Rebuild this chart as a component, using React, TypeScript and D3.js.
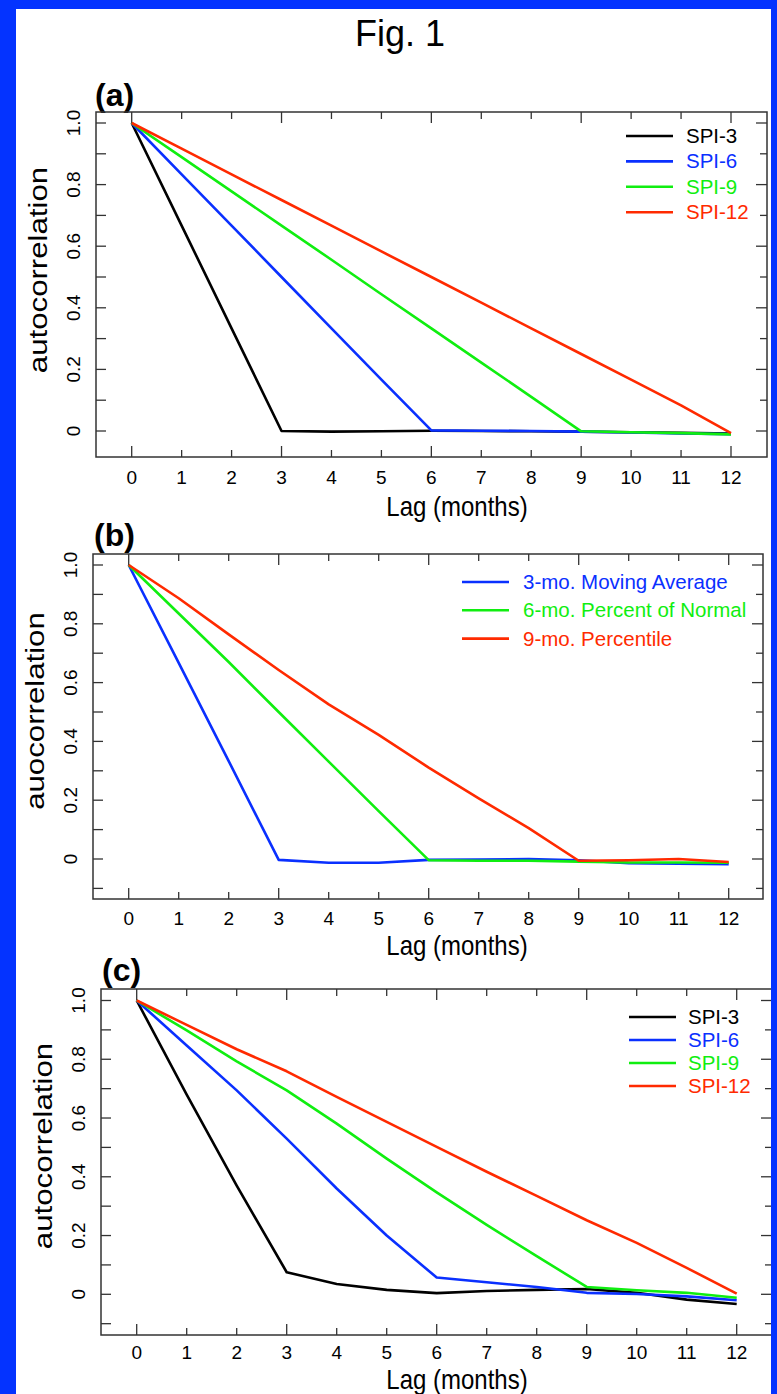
import React from 'react';
import * as d3 from 'd3';

// ---------- data ----------
const lags = [0, 1, 2, 3, 4, 5, 6, 7, 8, 9, 10, 11, 12];
const xTickLabels = ['0', '1', '2', '3', '4', '5', '6', '7', '8', '9', '10', '11', '12'];
const xMajorTicks = [0, 3, 6, 9, 12];
const yTickValues = [0, 0.2, 0.4, 0.6, 0.8, 1.0];
const yTickLabels = ['0', '0.2', '0.4', '0.6', '0.8', '1.0'];
const yMinorTicks = [-0.1, 0, 0.1, 0.2, 0.3, 0.4, 0.5, 0.6, 0.7, 0.8, 0.9, 1.0];

// panel (a)
const aSPI3 = [1, 0.667, 0.333, 0.0, -0.002, -0.001, 0.001, 0.0, -0.001, -0.002, -0.004, -0.006, -0.008];
const aSPI6 = [1, 0.833, 0.667, 0.5, 0.333, 0.167, 0.002, 0.001, 0.0, -0.002, -0.005, -0.008, -0.01];
const aSPI9 = [1, 0.889, 0.778, 0.667, 0.556, 0.444, 0.333, 0.222, 0.111, -0.001, -0.004, -0.007, -0.011];
const aSPI12 = [1, 0.917, 0.833, 0.75, 0.667, 0.583, 0.5, 0.417, 0.333, 0.25, 0.167, 0.083, -0.007];
const aLabels = ['SPI-3', 'SPI-6', 'SPI-9', 'SPI-12'];

// panel (b)
const bMovingAvg = [1, 0.667, 0.333, -0.003, -0.013, -0.013, -0.003, -0.002, 0.0, -0.004, -0.014, -0.016, -0.018];
const bPctNormal = [1, 0.835, 0.67, 0.5, 0.331, 0.163, -0.004, -0.006, -0.006, -0.009, -0.012, -0.012, -0.013];
const bPercentile = [1, 0.887, 0.764, 0.643, 0.526, 0.422, 0.311, 0.206, 0.105, -0.006, -0.004, 0.0, -0.01];
const bLabels = ['3-mo. Moving Average', '6-mo. Percent of Normal', '9-mo. Percentile'];

// panel (c)
const cSPI3 = [1, 0.68, 0.37, 0.075, 0.035, 0.015, 0.004, 0.011, 0.015, 0.018, 0.005, -0.018, -0.033];
const cSPI6 = [1, 0.847, 0.694, 0.53, 0.36, 0.2, 0.057, 0.041, 0.025, 0.005, 0.001, -0.007, -0.02];
const cSPI9 = [1, 0.898, 0.793, 0.694, 0.581, 0.462, 0.347, 0.236, 0.13, 0.025, 0.014, 0.005, -0.012];
const cSPI12 = [1, 0.917, 0.834, 0.759, 0.672, 0.587, 0.502, 0.417, 0.335, 0.252, 0.175, 0.09, 0.002];
const cLabels = ['SPI-3', 'SPI-6', 'SPI-9', 'SPI-12'];

const BLACK = '#000000';
const BLUE = '#0a30ff';
const GREEN = '#10ee10';
const RED = '#ff2a00';
const BORDER = '#0433ff';
const FONT = "'Liberation Sans', Arial, Helvetica, sans-serif";

type Series = { values: number[]; color: string; label: string };

type PanelProps = {
  tag: string;
  tagX: number;
  tagY: number;
  left: number;
  right: number;
  top: number;
  bottom: number;
  x0: number;
  x12: number;
  y1: number;
  y0: number;
  series: Series[];
  yTitle: string;
  yTitleY: number;
  lagY: number;
  tickLabelOffset: number;
  legendLineX1: number;
  legendLineX2: number;
  legendTextX: number;
  legendY0: number;
  legendStep: number;
};

function Panel(p: PanelProps) {
  const x = d3.scaleLinear().domain([0, 12]).range([p.x0, p.x12]);
  const y = d3.scaleLinear().domain([0, 1]).range([p.y0, p.y1]);
  const line = d3
    .line<number>()
    .x((_, i) => x(lags[i]))
    .y((d) => y(d));
  const axisColor = '#333';
  const majLen = 11;
  const minLen = 7;
  const yTicksIn = yMinorTicks.filter((v) => y(v) >= p.top && y(v) <= p.bottom);
  const isMajorY = (v: number) => yTickValues.some((t) => Math.abs(t - v) < 1e-6);
  const titleX = p.left - 49;
  return (
    <g>
      <text x={p.tagX} y={p.tagY} fontFamily={FONT} fontWeight="bold" fontSize={32}>
        {p.tag}
      </text>
      {/* ticks */}
      {lags.map((l) => {
        const len = xMajorTicks.includes(l) ? majLen : minLen;
        return (
          <g key={'xt' + l} stroke={axisColor} strokeWidth={1.3}>
            <line x1={x(l)} x2={x(l)} y1={p.bottom} y2={p.bottom - len} />
            <line x1={x(l)} x2={x(l)} y1={p.top} y2={p.top + len} />
          </g>
        );
      })}
      {yTicksIn.map((v) => {
        const len = isMajorY(v) ? majLen : minLen;
        return (
          <g key={'yt' + v} stroke={axisColor} strokeWidth={1.3}>
            <line x1={p.left} x2={p.left + 10} y1={y(v)} y2={y(v)} />
            <line x1={p.right} x2={p.right - len} y1={y(v)} y2={y(v)} />
          </g>
        );
      })}
      <rect
        x={p.left}
        y={p.top}
        width={p.right - p.left}
        height={p.bottom - p.top}
        fill="none"
        stroke={axisColor}
        strokeWidth={1.5}
      />
      {/* tick labels */}
      {lags.map((l, i) => (
        <text
          key={'xl' + l}
          x={x(l)}
          y={p.bottom + p.tickLabelOffset}
          textAnchor="middle"
          fontFamily={FONT}
          fontSize={19}
        >
          {xTickLabels[i]}
        </text>
      ))}
      {yTickValues.map((v, i) => (
        <text
          key={'yl' + v}
          x={p.left - 16}
          y={y(v)}
          textAnchor="middle"
          fontFamily={FONT}
          fontSize={19}
          transform={`rotate(-90, ${p.left - 16}, ${y(v)})`}
        >
          {yTickLabels[i]}
        </text>
      ))}
      <text
        transform={`translate(457, ${p.lagY}) scale(1, 1.15)`}
        textAnchor="middle"
        fontFamily={FONT}
        fontSize={24}
      >
        Lag (months)
      </text>
      <text
        transform={`translate(${titleX}, ${p.yTitleY}) rotate(-90) scale(1.2, 1)`}
        textAnchor="middle"
        fontFamily={FONT}
        fontSize={26}
      >
        {p.yTitle}
      </text>
      {/* series */}
      {p.series.map((s, i) => (
        <path
          key={'s' + i}
          d={line(s.values) || ''}
          fill="none"
          stroke={s.color}
          strokeWidth={2.6}
          strokeLinejoin="round"
        />
      ))}
      {/* legend */}
      {p.series.map((s, i) => {
        const ly = p.legendY0 + i * p.legendStep;
        return (
          <g key={'lg' + i}>
            <line x1={p.legendLineX1} x2={p.legendLineX2} y1={ly} y2={ly} stroke={s.color} strokeWidth={2.6} />
            <text x={p.legendTextX} y={ly + 7} fontFamily={FONT} fontSize={20.5} fill={s.color}>
              {s.label}
            </text>
          </g>
        );
      })}
    </g>
  );
}

export default function App() {
  const seriesA: Series[] = [
    { values: aSPI3, color: BLACK, label: aLabels[0] },
    { values: aSPI6, color: BLUE, label: aLabels[1] },
    { values: aSPI9, color: GREEN, label: aLabels[2] },
    { values: aSPI12, color: RED, label: aLabels[3] },
  ];
  const seriesB: Series[] = [
    { values: bMovingAvg, color: BLUE, label: bLabels[0] },
    { values: bPctNormal, color: GREEN, label: bLabels[1] },
    { values: bPercentile, color: RED, label: bLabels[2] },
  ];
  const seriesC: Series[] = [
    { values: cSPI3, color: BLACK, label: cLabels[0] },
    { values: cSPI6, color: BLUE, label: cLabels[1] },
    { values: cSPI9, color: GREEN, label: cLabels[2] },
    { values: cSPI12, color: RED, label: cLabels[3] },
  ];
  return (
    <svg
      width={777}
      height={1394}
      style={{ position: 'absolute', left: 0, top: 0, display: 'block' }}
    >
      <rect x={0} y={0} width={777} height={1394} fill="#ffffff" />
      <text x={400} y={46} textAnchor="middle" fontFamily={FONT} fontSize={36}>
        Fig. 1
      </text>
      <Panel
        tag="(a)"
        tagX={95}
        tagY={106}
        left={96}
        right={767}
        top={112}
        bottom={457}
        x0={131.7}
        x12={731}
        y1={123}
        y0={431}
        series={seriesA}
        yTitle="autocorrelation"
        yTitleY={270}
        lagY={516}
        tickLabelOffset={27}
        legendLineX1={626}
        legendLineX2={673}
        legendTextX={686}
        legendY0={136}
        legendStep={25.4}
      />
      <Panel
        tag="(b)"
        tagX={94}
        tagY={546}
        left={93}
        right={763}
        top={554}
        bottom={899}
        x0={128.7}
        x12={728.7}
        y1={565}
        y0={859}
        series={seriesB}
        yTitle="auocorrelation"
        yTitleY={711}
        lagY={955}
        tickLabelOffset={26}
        legendLineX1={462}
        legendLineX2={509}
        legendTextX={523}
        legendY0={582}
        legendStep={28.3}
      />
      <Panel
        tag="(c)"
        tagX={102}
        tagY={981}
        left={101}
        right={772}
        top={989}
        bottom={1335}
        x0={136.7}
        x12={736.7}
        y1={1000.5}
        y0={1294.3}
        series={seriesC}
        yTitle="autocorrelation"
        yTitleY={1146}
        lagY={1389}
        tickLabelOffset={24}
        legendLineX1={629}
        legendLineX2={676}
        legendTextX={688}
        legendY0={1017}
        legendStep={23}
      />
      {/* blue frame */}
      <rect x={0} y={0} width={16} height={1394} fill={BORDER} />
      <rect x={771} y={0} width={6} height={1394} fill={BORDER} />
      <rect x={0} y={0} width={777} height={9} fill={BORDER} />
    </svg>
  );
}
